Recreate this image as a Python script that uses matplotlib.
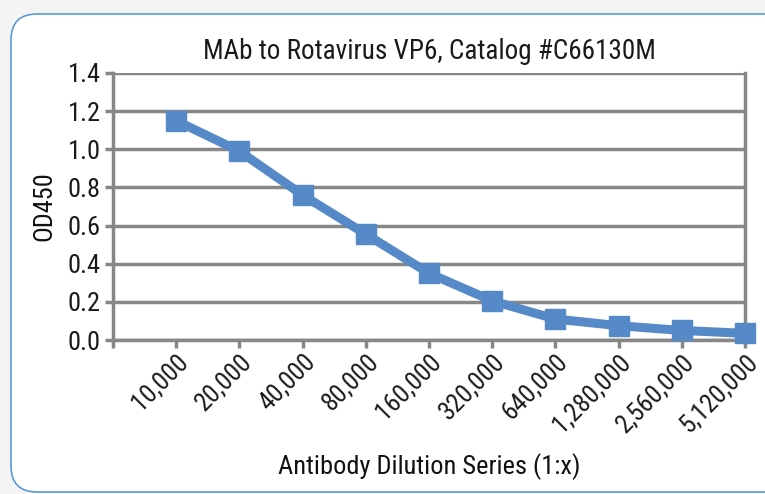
import matplotlib
matplotlib.use("Agg")
import matplotlib.pyplot as plt
from matplotlib.patches import FancyBboxPatch
from matplotlib import font_manager
from matplotlib.font_manager import FontProperties

categories = ["10,000", "20,000", "40,000", "80,000", "160,000", "320,000",
              "640,000", "1,280,000", "2,560,000", "5,120,000"]
od450 = [1.15, 0.99, 0.76, 0.555, 0.35, 0.205, 0.11, 0.075, 0.05, 0.035]
yticks = [0.0, 0.2, 0.4, 0.6, 0.8, 1.0, 1.2, 1.4]

names = {f.name for f in font_manager.fontManager.ttflist}
if "Roboto Condensed" in names:
    fams = ["Roboto Condensed", "DejaVu Sans"]
    scale = 1.0
else:
    fams = ["Liberation Sans", "DejaVu Sans"]
    scale = 0.85


def fp(size):
    return FontProperties(family=fams, size=size * scale)


W, H = 765, 494
fig = plt.figure(figsize=(W / 100, H / 100), dpi=100)
fig.patch.set_facecolor("#f4f4f4")
box = FancyBboxPatch((11, 2), 800, H - 14 - 2,
                     boxstyle="round,pad=0,rounding_size=26",
                     transform=None, facecolor="white",
                     edgecolor="#5b9bd5", linewidth=1.2, zorder=-10)
fig.patches.append(box)

ax = fig.add_axes([113 / W, 1 - 340 / H, (745 - 113) / W, (340 - 73) / H])
ax.set_facecolor("none")
ax.set_zorder(5)
grid = "#878787"
x = list(range(1, len(categories) + 1))
ax.plot(x, od450, color="#5589c8", lw=6.5, marker="s", markersize=15,
        markerfacecolor="#5589c8", markeredgecolor="#5589c8", zorder=5, clip_on=False)

ax.set_xlim(0, len(categories))
ax.set_ylim(0, 1.4)
ax.set_yticks(yticks)
ax.set_yticklabels([f"{v:.1f}" for v in yticks], fontproperties=fp(19))
ax.set_xticks([0] + x)
ax.set_xticklabels([""] + categories, rotation=45, ha="right", va="top",
                   rotation_mode="anchor", fontproperties=fp(18.5))
ax.yaxis.grid(True, color=grid, lw=2.5)
ax.set_axisbelow(True)
for s in ["left", "bottom"]:
    ax.spines[s].set_color(grid)
    ax.spines[s].set_linewidth(2.5)
ax.spines["top"].set_visible(False)
ax.spines["right"].set_color(grid)
ax.spines["right"].set_linewidth(2.5)
ax.tick_params(axis="both", colors=grid, width=2.5, length=6, labelcolor="#1a1a1a")
ax.tick_params(axis="x", pad=1)
ax.tick_params(axis="y", pad=3)

ax.set_title("MAb to Rotavirus VP6, Catalog #C66130M", fontproperties=fp(19.5), pad=10, color="#1a1a1a")
ax.set_xlabel("Antibody Dilution Series (1:x)", fontproperties=fp(19), color="#111111", labelpad=12)
ax.set_ylabel("OD450", fontproperties=fp(19), color="#111111", labelpad=8)

fig.savefig("out.png", dpi=100, facecolor=fig.get_facecolor())
